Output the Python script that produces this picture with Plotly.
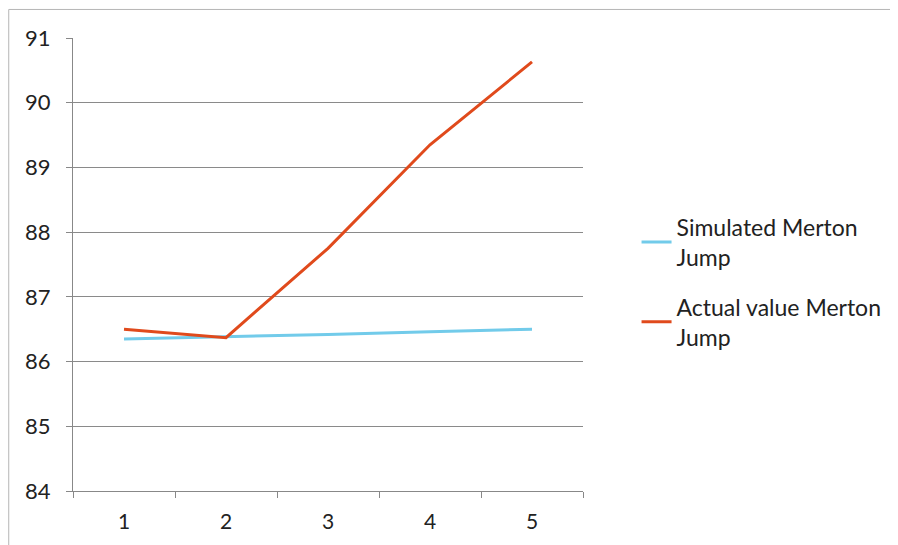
import plotly.graph_objects as go

categories = ["1", "2", "3", "4", "5"]
simulated = [86.35, 86.38, 86.42, 86.46, 86.50]
actual = [86.50, 86.37, 87.75, 89.35, 90.63]
y_ticks = [84, 85, 86, 87, 88, 89, 90, 91]

FONT = "Lato, Carlito, Calibri, sans-serif"

fig = go.Figure()
fig.add_trace(go.Scatter(x=categories, y=simulated, mode="lines",
                         name="Simulated Merton<br>Jump", legendgroup="a",
                         line=dict(color="#72cbea", width=3)))
fig.add_trace(go.Scatter(x=categories, y=actual, mode="lines",
                         name="Actual value Merton<br>Jump", legendgroup="b",
                         line=dict(color="#e04a1c", width=3)))

fig.update_layout(
    width=890, height=537,
    margin=dict(l=65, r=313, t=30, b=54),
    paper_bgcolor="white", plot_bgcolor="white",
    font=dict(family=FONT, size=21, color="#222"),
    showlegend=True,
    legend=dict(x=1.105, y=0.63, xanchor="left", yanchor="top",
                font=dict(size=23, color="#222"), tracegroupgap=17,
                bgcolor="rgba(0,0,0,0)"),
    xaxis=dict(type="category", range=[-0.5, 4.5], showgrid=False,
               showline=True, linecolor="#888", linewidth=1,
               ticks="outside", tickson="boundaries", ticklen=6,
               tickcolor="#888", ticklabelstandoff=12,
               tickfont=dict(size=21, color="#222"), zeroline=False),
    yaxis=dict(range=[84, 91], tickvals=y_ticks, showgrid=True,
               gridcolor="#8a8a8a", gridwidth=1,
               showline=True, linecolor="#888", linewidth=1,
               ticks="outside", ticklen=6, tickcolor="#888",
               ticklabelstandoff=11,
               tickfont=dict(size=22, color="#222"), zeroline=False),
    shapes=[
        dict(type="line", xref="paper", yref="paper",
             x0=-0.126, x1=1.62, y0=1.063, y1=1.063,
             line=dict(color="#b5b5b5", width=1)),
        dict(type="line", xref="paper", yref="paper",
             x0=-0.126, x1=-0.126, y0=1.063, y1=-0.2,
             line=dict(color="#b5b5b5", width=1)),
    ],
)

fig.write_html("out.html")
